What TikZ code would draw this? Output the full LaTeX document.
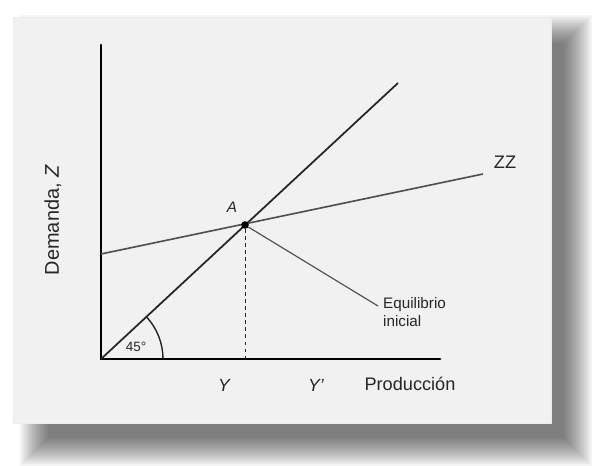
\documentclass[tikz,border=0pt]{standalone}
\usepackage{fontspec}
\setmainfont{Liberation Sans}
\usetikzlibrary{calc}
\definecolor{panel}{HTML}{F1F1F1}
\definecolor{zzgray}{HTML}{505050}
\definecolor{ink}{HTML}{262626}
\begin{document}
\begin{tikzpicture}[x=0.03cm,y=0.03cm,
  axis/.style={line width=2.4pt,line cap=round},
  diagline/.style={line width=1.5pt,ink},
  zzline/.style={line width=1.4pt,zzgray},
  lbl/.style={ink,font=\fontsize{15.5}{18}\selectfont},
  small/.style={ink,font=\fontsize{13}{15.5}\selectfont},
  dot/.style={circle,fill=black,inner sep=0pt,minimum size=6.5pt}]
\useasboundingbox (0,0) rectangle (595,465);
\fill[white] (0,0) rectangle (595,465);

% soft shadow and panel
\foreach \i in {0,...,14}
  \fill[black,opacity=0.045] ({20+2*\i},{-1+2*\i}) rectangle ({592-2*\i},{450-2*\i});
\fill[panel] (13,42) rectangle (551,448);
\draw[black!8] (13,42) rectangle (551,448);

\coordinate (O) at (101,106);
\coordinate (ytop) at (101,420);
\coordinate (xend) at (440,106);
\coordinate (diag) at (398,382);
\coordinate (zz0) at (101,211);
\coordinate (zz1) at (483,291);
\coordinate (lead) at (378,159);

\draw[axis] (ytop) -- (O) -- (xend);
\draw[diagline] (O) -- (diag);
\draw[zzline] (zz0) -- (zz1);
\node[lbl] (zz) at (505,303) {ZZ};

\node[dot] (A) at (245,240) {};
\node[lbl,font=\fontsize{13}{15}\selectfont\itshape] (alab) at (232,258) {A};
\draw[dashed,line width=0.8pt,ink] (A) -- (A |- O);
\draw[line width=1pt,zzgray] (A) -- (lead);
\node[small,anchor=north west,align=left,inner sep=0pt] (eq) at (383,168) {Equilibrio\\inicial};

\draw[line width=1.2pt,ink] ($(O)+(62,0)$) arc[start angle=0,end angle=43,radius=62];
\node[small,font=\fontsize{11.5}{13}\selectfont] (ang) at (136,118) {45°};

\node[lbl,font=\fontsize{15}{17}\selectfont\itshape] (y) at (224,80) {Y};
\node[lbl,font=\fontsize{15}{17}\selectfont\itshape] (yp) at (316,80) {Y’};
\node[lbl] (prod) at (410,81) {Producción};
\node[lbl,rotate=90,font=\fontsize{17}{20}\selectfont] (dem) at (53,245) {Demanda, \textit{Z}};
\end{tikzpicture}
\end{document}
